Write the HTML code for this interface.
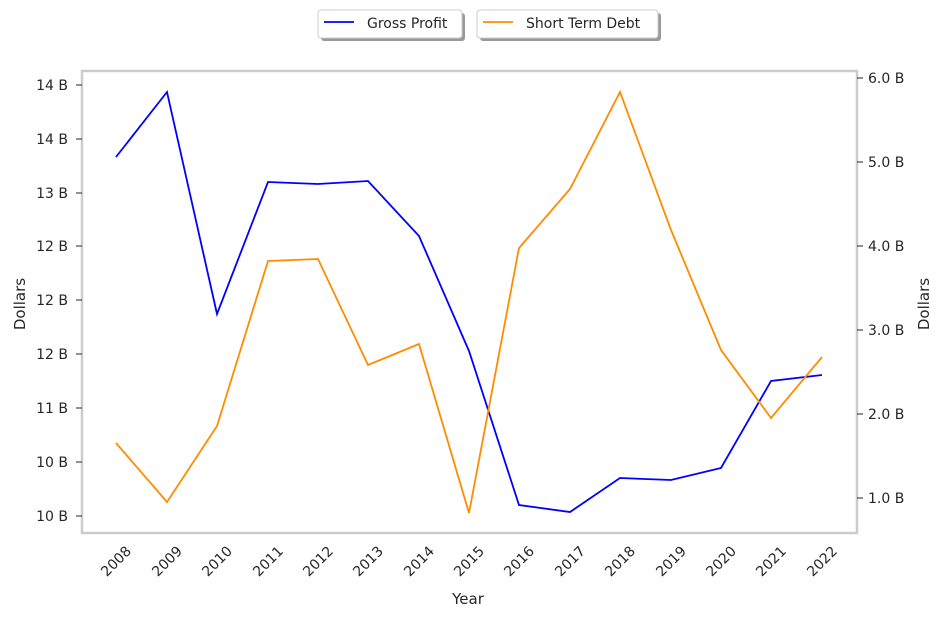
<!DOCTYPE html>
<html><head><style>
body{margin:0;background:#fff;font-family:"Liberation Sans","DejaVu Sans",sans-serif;}
</style></head><body>
<svg width="942" height="618" xmlns="http://www.w3.org/2000/svg" font-family="DejaVu Sans, Liberation Sans, sans-serif" font-size="14" fill="#262626">
<rect x="82" y="71" width="775" height="462" fill="#fff" stroke="#cccccc" stroke-width="2.5"/>
<g text-anchor="end">
<text x="68" y="90">14 B</text><text x="68" y="144">14 B</text><text x="68" y="198">13 B</text>
<text x="68" y="251">12 B</text><text x="68" y="305">12 B</text><text x="68" y="359">12 B</text>
<text x="68" y="413">11 B</text><text x="68" y="467">10 B</text><text x="68" y="521">10 B</text>
</g>
<g stroke="#262626" stroke-width="1">
<line x1="76" y1="85" x2="82" y2="85"/><line x1="76" y1="139" x2="82" y2="139"/><line x1="76" y1="193" x2="82" y2="193"/>
<line x1="76" y1="246" x2="82" y2="246"/><line x1="76" y1="300" x2="82" y2="300"/><line x1="76" y1="354" x2="82" y2="354"/>
<line x1="76" y1="408" x2="82" y2="408"/><line x1="76" y1="462" x2="82" y2="462"/><line x1="76" y1="516" x2="82" y2="516"/>
<line x1="857" y1="78" x2="863" y2="78"/><line x1="857" y1="162" x2="863" y2="162"/><line x1="857" y1="246" x2="863" y2="246"/>
<line x1="857" y1="330" x2="863" y2="330"/><line x1="857" y1="414" x2="863" y2="414"/><line x1="857" y1="498" x2="863" y2="498"/>
</g>
<g text-anchor="start">
<text x="868" y="83">6.0 B</text><text x="868" y="167">5.0 B</text><text x="868" y="251">4.0 B</text>
<text x="868" y="335">3.0 B</text><text x="868" y="419">2.0 B</text><text x="868" y="503">1.0 B</text>
</g>
<g text-anchor="end">
<text transform="translate(132,552) rotate(-45)">2008</text>
<text transform="translate(183,552) rotate(-45)">2009</text>
<text transform="translate(233,552) rotate(-45)">2010</text>
<text transform="translate(284,552) rotate(-45)">2011</text>
<text transform="translate(334,552) rotate(-45)">2012</text>
<text transform="translate(384,552) rotate(-45)">2013</text>
<text transform="translate(435,552) rotate(-45)">2014</text>
<text transform="translate(485,552) rotate(-45)">2015</text>
<text transform="translate(535,552) rotate(-45)">2016</text>
<text transform="translate(586,552) rotate(-45)">2017</text>
<text transform="translate(636,552) rotate(-45)">2018</text>
<text transform="translate(687,552) rotate(-45)">2019</text>
<text transform="translate(737,552) rotate(-45)">2020</text>
<text transform="translate(787,552) rotate(-45)">2021</text>
<text transform="translate(838,552) rotate(-45)">2022</text>
</g>
<text x="468" y="604" text-anchor="middle" font-size="15">Year</text>
<text transform="translate(25,304) rotate(-90)" text-anchor="middle" font-size="15">Dollars</text>
<text transform="translate(929,304) rotate(-90)" text-anchor="middle" font-size="15">Dollars</text>
<polyline fill="none" stroke="#0000ff" stroke-width="1.8" points="116,157 167,92 217,314 268,182 318,184 368,181 419,236 469,351 519,505 570,512 620,478 671,480 721,468 771,381 822,375"/>
<polyline fill="none" stroke="#ff8c00" stroke-width="1.8" points="116,443 167,502 217,426 268,261 318,259 368,365 419,344 469,513 519,248 570,189 620,92 671,230 721,350 771,418 822,357"/>
<rect x="321" y="13" width="144" height="28" rx="3" fill="#999"/>
<rect x="318" y="10" width="144" height="28" rx="3" fill="#fff" stroke="#ccc"/>
<line x1="324" y1="22" x2="354" y2="22" stroke="#0000ff" stroke-width="1.8"/>
<text x="367" y="28">Gross Profit</text>
<rect x="480" y="13" width="181" height="28" rx="3" fill="#999"/>
<rect x="477" y="10" width="181" height="28" rx="3" fill="#fff" stroke="#ccc"/>
<line x1="483" y1="22" x2="513" y2="22" stroke="#ff8c00" stroke-width="1.8"/>
<text x="526" y="28">Short Term Debt</text>
</svg>
</body></html>
